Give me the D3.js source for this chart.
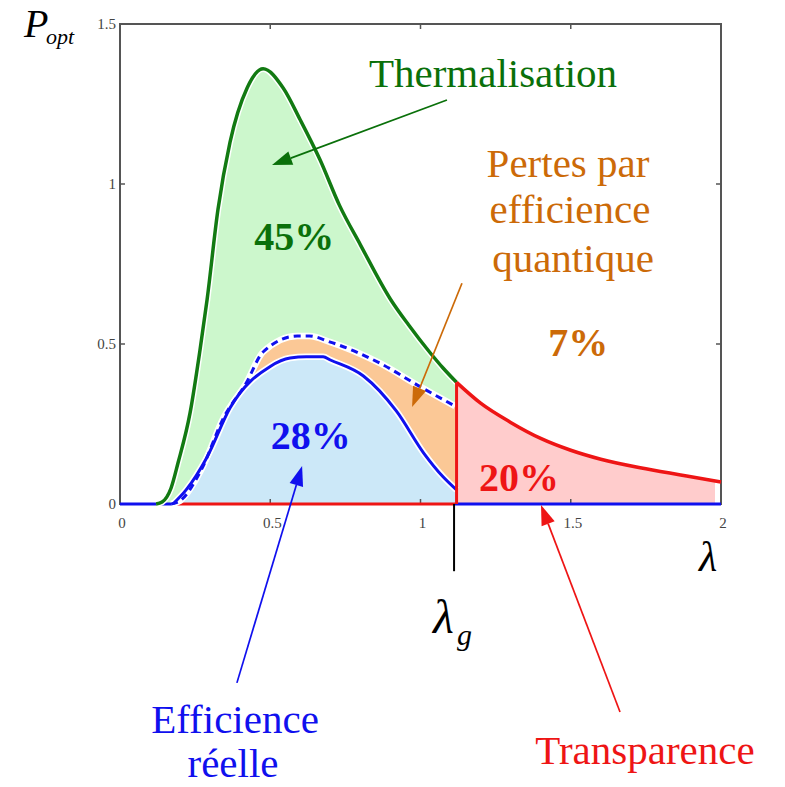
<!DOCTYPE html>
<html><head><meta charset="utf-8">
<script src="https://cdn.jsdelivr.net/npm/d3@7"></script>
<style>body{margin:0;background:#fff}svg{display:block}</style>
</head><body>
<svg id="c" width="785" height="787"></svg>
<script>
// ---- data ----
const thermX = [0, 0.12, 0.14, 0.17, 0.193, 0.233, 0.266, 0.29, 0.326, 0.366, 0.423, 0.476, 0.543, 0.6, 0.666, 0.73, 0.8, 0.9, 0.96, 1.03, 1.075, 1.12];
const thermY = [0, 0, 0.006, 0.05, 0.128, 0.284, 0.48, 0.64, 0.92, 1.13, 1.30, 1.36, 1.30, 1.2, 1.075, 0.934, 0.81, 0.64, 0.56, 0.475, 0.425, 0.38];
const tailX = [1.12, 1.2, 1.3, 1.4, 1.5, 1.6, 1.75, 1.9, 2.0];
const tailY = [0.38, 0.315, 0.255, 0.205, 0.168, 0.14, 0.11, 0.085, 0.069];
const idealX = [0.17, 0.2, 0.27, 0.345, 0.42, 0.476, 0.59, 0.63, 0.7, 0.865, 1.0, 1.115];
const idealY = [0, 0.01, 0.106, 0.27, 0.378, 0.475, 0.525, 0.525, 0.506, 0.44, 0.366, 0.306];
const realX = [0.176, 0.22, 0.29, 0.366, 0.5, 0.566, 0.62, 0.676, 0.7, 0.81, 0.92, 1.01, 1.075, 1.12];
const realY = [0, 0.044, 0.147, 0.30, 0.43, 0.456, 0.46, 0.46, 0.45, 0.4, 0.29, 0.16, 0.085, 0.044];
const lambdaG = 1.115;
const xTicks = [0, 0.5, 1, 1.5, 2];
const yTicks = [0, 0.5, 1, 1.5];
const xTickLabels = ["0", "0.5", "1", "1.5", "2"];
const yTickLabels = ["0", "0.5", "1", "1.5"];
const shares = ["45%", "28%", "7%", "20%"];

const zip = (xs, ys) => xs.map((x, i) => [x, ys[i]]);
const therm = zip(thermX, thermY), tail = zip(tailX, tailY), ideal = zip(idealX, idealY), real = zip(realX, realY);

const svg = d3.select("#c");
const x = d3.scaleLinear().domain([0, 2]).range([120, 721]);
const y = d3.scaleLinear().domain([0, 1.5]).range([504, 24]);

const GREEN = "#127a12", GTXT = "#0a700a", BLUE = "#1010ee", RED = "#ee1515", ORANGE = "#cc6a08";
const serif = "'Liberation Serif','Times New Roman',serif";

const area = d3.area().x(d => x(d[0])).y0(y(0)).y1(d => y(d[1])).curve(d3.curveMonotoneX);
const line = d3.line().x(d => x(d[0])).y(d => y(d[1])).curve(d3.curveMonotoneX);

// fills
svg.append("path").datum(therm.filter(d => d[0] >= 0.12)).attr("d", area).attr("fill", "#ccf7cc");
svg.append("path").datum(ideal).attr("d", area).attr("fill", "#ffffff");
svg.append("path").datum(ideal.filter(d => d[0] >= 0.42)).attr("d", area).attr("fill", "#fbc896");
svg.append("path").datum(real).attr("d", area).attr("fill", "#cce8f8");
svg.append("path").datum(tail.filter(d => d[0] <= 1.9).concat([[1.98, 0.0705]])).attr("d", area).attr("fill", "#ffcccc");

// frame
const g = svg.append("g");
g.append("rect").attr("x", x(0)).attr("y", y(1.5)).attr("width", x(2) - x(0)).attr("height", y(0) - y(1.5))
  .attr("fill", "none").attr("stroke", "#555").attr("stroke-width", 2);
xTicks.slice(1, -1).forEach(t => {
  g.append("line").attr("x1", x(t)).attr("x2", x(t)).attr("y1", y(0)).attr("y2", y(0) - 5).attr("stroke", "#555").attr("stroke-width", 1.5);
  g.append("line").attr("x1", x(t)).attr("x2", x(t)).attr("y1", y(1.5)).attr("y2", y(1.5) + 5).attr("stroke", "#555").attr("stroke-width", 1.5);
});
yTicks.slice(1, -1).forEach(t => {
  g.append("line").attr("x1", x(0)).attr("x2", x(0) + 5).attr("y1", y(t)).attr("y2", y(t)).attr("stroke", "#555").attr("stroke-width", 1.5);
  g.append("line").attr("x1", x(2)).attr("x2", x(2) - 5).attr("y1", y(t)).attr("y2", y(t)).attr("stroke", "#555").attr("stroke-width", 1.5);
});
xTicks.forEach((t, i) => g.append("text").attr("x", x(t) + 2).attr("y", y(0) + 24).attr("text-anchor", "middle")
  .attr("font-family", serif).attr("font-size", 15).attr("fill", "#444").text(xTickLabels[i]));
yTicks.forEach((t, i) => g.append("text").attr("x", x(0) - 4).attr("y", y(t) + 5).attr("text-anchor", "end")
  .attr("font-family", serif).attr("font-size", 15).attr("fill", "#444").text(yTickLabels[i]));

// baselines
svg.append("line").attr("x1", x(0)).attr("x2", x(0.18)).attr("y1", y(0)).attr("y2", y(0)).attr("stroke", BLUE).attr("stroke-width", 3);
svg.append("line").attr("x1", x(0.18)).attr("x2", x(lambdaG)).attr("y1", y(0)).attr("y2", y(0)).attr("stroke", RED).attr("stroke-width", 3);
svg.append("line").attr("x1", x(lambdaG)).attr("x2", x(2)).attr("y1", y(0)).attr("y2", y(0)).attr("stroke", BLUE).attr("stroke-width", 3);

// halos
[therm.filter(d => d[0] >= 0.12), ideal, real].forEach(dd =>
  svg.append("path").datum(dd).attr("d", line).attr("fill", "none").attr("stroke", "#fff").attr("stroke-width", 6.5));

// curves
svg.append("path").datum(therm.filter(d => d[0] >= 0.12)).attr("d", line).attr("fill", "none").attr("stroke", GREEN).attr("stroke-width", 3.5);
svg.append("path").datum(ideal).attr("d", line).attr("fill", "none").attr("stroke", BLUE).attr("stroke-width", 3).attr("stroke-dasharray", "7,5");
svg.append("path").datum(real).attr("d", line).attr("fill", "none").attr("stroke", BLUE).attr("stroke-width", 3);
svg.append("path").datum(tail).attr("d", line).attr("fill", "none").attr("stroke", RED).attr("stroke-width", 3.5);
svg.append("line").attr("x1", x(tailX[0])).attr("x2", x(tailX[0])).attr("y1", y(0)).attr("y2", y(tailY[0])).attr("stroke", RED).attr("stroke-width", 3);

// lambda_g marker
svg.append("line").attr("x1", x(lambdaG) - 1).attr("x2", x(lambdaG) - 1).attr("y1", y(0)).attr("y2", y(-0.21)).attr("stroke", "#000").attr("stroke-width", 2);

// arrows (data coordinates of tail -> tip)
function arrow(x0, y0, x1, y1, col) {
  const X0 = x(x0), Y0 = y(y0), X1 = x(x1), Y1 = y(y1);
  const a = Math.atan2(Y1 - Y0, X1 - X0), L = 20, W = 7;
  const bx = X1 - L * Math.cos(a), by = Y1 - L * Math.sin(a);
  svg.append("line").attr("x1", X0).attr("y1", Y0).attr("x2", bx).attr("y2", by).attr("stroke", col).attr("stroke-width", 1.7);
  const p = [[X1, Y1], [bx + W * Math.sin(a), by - W * Math.cos(a)], [bx - W * Math.sin(a), by + W * Math.cos(a)]];
  svg.append("polygon").attr("points", p.map(q => q.join(",")).join(" ")).attr("fill", col);
}
arrow(1.088, 1.2625, 0.506, 1.059, GTXT);
arrow(1.138, 0.69, 0.972, 0.303, ORANGE);
arrow(0.389, -0.559, 0.606, 0.119, BLUE);
arrow(1.664, -0.65, 1.401, -0.003, RED);

// texts
function txt(tx, ty, s, col, size, opts = {}) {
  return svg.append("text").attr("x", tx).attr("y", ty).attr("text-anchor", opts.anchor || "middle")
    .attr("font-family", serif).attr("font-size", size).attr("fill", col)
    .attr("font-weight", opts.bold ? "bold" : "normal").attr("font-style", opts.italic ? "italic" : "normal").text(s);
}
txt(493, 87, "Thermalisation", GTXT, 41);
txt(568, 177, "Pertes par", ORANGE, 41);
txt(570, 223, "efficience", ORANGE, 41);
txt(573, 272, "quantique", ORANGE, 41);
txt(x(0.58), y(0.795), shares[0], GTXT, 40, {bold: true});
txt(x(0.635), y(0.172), shares[1], BLUE, 40, {bold: true});
txt(x(1.525), y(0.462), shares[2], ORANGE, 40, {bold: true});
txt(x(1.328), y(0.04), shares[3], RED, 40, {bold: true});
txt(235, 733, "Efficience", BLUE, 41);
txt(233, 777, "réelle", BLUE, 41);
txt(645, 764, "Transparence", RED, 41);
txt(699, 571, "λ", "#000", 42, {anchor: "start", italic: true});
txt(433, 633, "λ", "#000", 48, {anchor: "start", italic: true});
txt(457, 645, "g", "#000", 30, {anchor: "start", italic: true});
txt(24, 37, "P", "#000", 40, {anchor: "start", italic: true});
txt(46, 44, "opt", "#000", 22, {anchor: "start", italic: true});
</script>
</body></html>
